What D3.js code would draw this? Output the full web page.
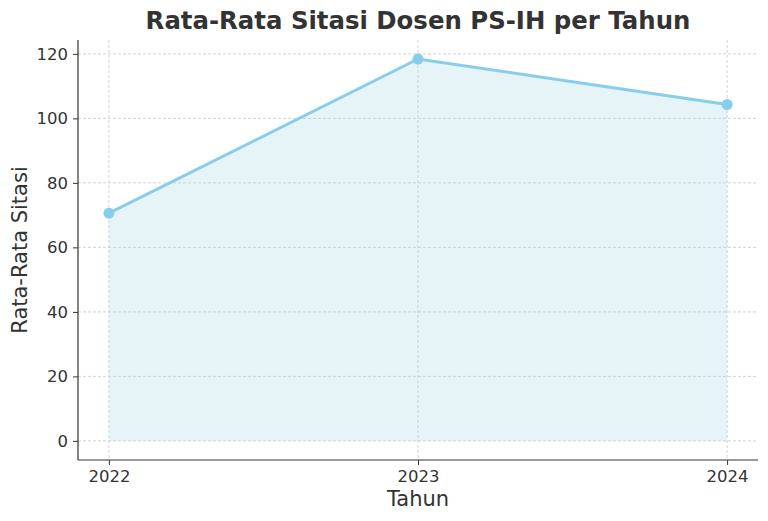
<!DOCTYPE html>
<html><head><meta charset="utf-8">
<script src="https://cdn.jsdelivr.net/npm/d3@7"></script>
<style>body{margin:0;background:#fff}text{font-family:"DejaVu Sans",sans-serif}</style>
</head><body><svg id="c" width="768" height="521"></svg>
<script>
const years = [2022, 2023, 2024];
const values = [70.6, 118.4, 104.3];
const yTicks = [0, 20, 40, 60, 80, 100, 120];

const svg = d3.select("#c");
const L = 78, R = 758, T = 40, B = 460;
const x = d3.scaleLinear().domain([2021.9, 2024.1]).range([L, R]);
const y = d3.scaleLinear().domain([-5.92, 124.3]).range([B, T]);
const data = years.map((d, i) => ({ yr: d, v: values[i] }));

const g = svg.append("g");
g.selectAll(".gy").data(yTicks).join("line")
  .attr("x1", L).attr("x2", R).attr("y1", d => y(d)).attr("y2", d => y(d))
  .attr("stroke", "#c8c8c8").attr("stroke-dasharray", "3,2").attr("stroke-width", 0.8);
g.selectAll(".gx").data(years).join("line")
  .attr("x1", d => x(d)).attr("x2", d => x(d)).attr("y1", T).attr("y2", B)
  .attr("stroke", "#c8c8c8").attr("stroke-dasharray", "3,2").attr("stroke-width", 0.8);

g.append("path").datum(data)
  .attr("d", d3.area().x(d => x(d.yr)).y0(y(0)).y1(d => y(d.v)))
  .attr("fill", "#add8e6").attr("opacity", 0.3);
g.append("path").datum(data)
  .attr("d", d3.line().x(d => x(d.yr)).y(d => y(d.v)))
  .attr("fill", "none").attr("stroke", "#87ceeb").attr("stroke-width", 3);
g.selectAll("circle").data(data).join("circle")
  .attr("cx", d => x(d.yr)).attr("cy", d => y(d.v)).attr("r", 5.5).attr("fill", "#87ceeb");

const ax = svg.append("g").attr("transform", `translate(0,${B})`)
  .call(d3.axisBottom(x).tickValues(years).tickFormat(d3.format("d")).tickSizeOuter(0).tickSize(5).tickPadding(5));
const ay = svg.append("g").attr("transform", `translate(${L},0)`)
  .call(d3.axisLeft(y).tickValues(yTicks).tickSizeOuter(0).tickSize(5).tickPadding(5));
[ax, ay].forEach(a => {
  a.attr("font-size", 16.5).attr("font-family", "DejaVu Sans");
  a.select(".domain").attr("stroke", "#333").attr("stroke-width", 1.2);
  a.selectAll(".tick line").attr("stroke", "#333");
  a.selectAll(".tick text").attr("font-size", 16.5).attr("fill", "#333");
});
ax.select(".domain").attr("d", `M${L},0H${R}`);
ay.select(".domain").attr("d", `M0,${T}V${B}`);

svg.append("text").attr("x", 418).attr("y", 29).attr("text-anchor", "middle")
  .attr("font-size", 24.4).attr("font-weight", "bold").attr("fill", "#333")
  .text("Rata-Rata Sitasi Dosen PS-IH per Tahun");
svg.append("text").attr("x", 418).attr("y", 506).attr("text-anchor", "middle")
  .attr("font-size", 21).attr("fill", "#333").text("Tahun");
svg.append("text").attr("transform", `translate(27,250) rotate(-90)`).attr("text-anchor", "middle")
  .attr("font-size", 21).attr("fill", "#333").text("Rata-Rata Sitasi");
</script></body></html>
